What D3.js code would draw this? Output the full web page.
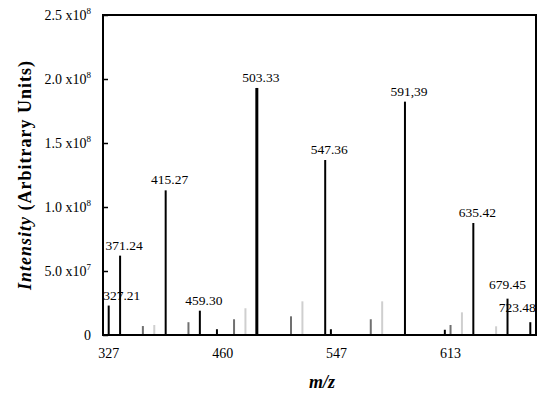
<!DOCTYPE html>
<html>
<head>
<meta charset="utf-8">
<script src="https://cdn.jsdelivr.net/npm/d3@7"></script>
<style>
  body { margin: 0; background: #fff; }
  svg { font-family: "Palatino Linotype", Palatino, "Book Antiqua", "Liberation Serif", serif; }
</style>
</head>
<body>
<div id="chart"></div>
<script>
// spectrum channel of each peak (category position on the m/z axis)
const channels = [0, 2, 6, 8, 10, 14, 16, 19, 22, 24, 26, 32, 34, 38, 39, 46, 48, 52, 59, 60, 62, 64, 68, 70, 74];
const intensities = [2.3e7, 6.2e7, 7.0e6, 7.8e6, 1.13e8, 1.0e7, 1.9e7, 4.5e6, 1.23e7, 2.09e7, 1.93e8,
  1.46e7, 2.63e7, 1.367e8, 4.5e6, 1.23e7, 2.63e7, 1.823e8, 4.1e6, 7.8e6, 1.77e7, 8.75e7, 6.8e6, 2.84e7, 1.0e7];
const series = ["main", "main", "mid", "light", "main", "mid", "main", "main", "mid", "light", "main",
  "mid", "light", "main", "main", "mid", "light", "main", "main", "mid", "light", "main", "light", "main", "main"];
const peakLabels = ["327.21", "371.24", "", "", "415.27", "", "459.30", "", "", "", "503.33",
  "", "", "547.36", "", "", "", "591,39", "", "", "", "635.42", "", "679.45", "723.48"];

const xTickChannels = [0, 20, 40, 60];
const xTickLabels = ["327", "460", "547", "613"];
const yTicks = [0, 5e7, 1e8, 1.5e8, 2e8, 2.5e8];

const data = channels.map((c, i) => ({
  channel: c, value: intensities[i], series: series[i], label: peakLabels[i]
}));

const width = 550, height = 397;
const margin = { top: 15, right: 14, bottom: 62, left: 103 };

const svg = d3.select("#chart")
  .append("svg")
  .attr("width", width)
  .attr("height", height);

const x = d3.scaleLinear()
  .domain([-1, 75])
  .range([margin.left, width - margin.right]);

const y = d3.scaleLinear()
  .domain([0, 2.5e8])
  .range([height - margin.bottom, margin.top]);

const color = d3.scaleOrdinal()
  .domain(["main", "mid", "light"])
  .range(["#000", "#707070", "#cfcfcf"]);

// peaks
svg.append("g")
  .selectAll("line")
  .data(data)
  .enter()
  .append("line")
  .attr("x1", d => x(d.channel))
  .attr("x2", d => x(d.channel))
  .attr("y1", y(0))
  .attr("y2", d => y(d.value))
  .attr("stroke", d => color(d.series))
  .attr("stroke-width", d => d.value > 1.9e8 ? 3 : 2);

// peak labels, nudged where they would hit the frame
const nudge = { "327.21": [13, 0], "723.48": [-13, -4], "679.45": [0, -4] };
svg.append("g")
  .attr("font-size", 13.5)
  .attr("text-anchor", "middle")
  .selectAll("text")
  .data(data.filter(d => d.label))
  .enter()
  .append("text")
  .attr("x", d => x(d.channel) + 4 + (nudge[d.label] ? nudge[d.label][0] - 4 : 0))
  .attr("y", d => y(d.value) - 6 + (nudge[d.label] ? nudge[d.label][1] : 0))
  .text(d => d.label);

// y axis, ticks pointing inward
const yAxis = svg.append("g")
  .attr("transform", `translate(${margin.left},0)`)
  .call(d3.axisRight(y).tickValues(yTicks).tickSize(5).tickFormat(""));
yAxis.select(".domain").remove();
yAxis.selectAll("line").attr("stroke", "#000").attr("stroke-width", 1.5);

const yLab = svg.append("g")
  .attr("font-size", 14)
  .attr("text-anchor", "end")
  .selectAll("text")
  .data(yTicks)
  .enter()
  .append("text")
  .attr("x", margin.left - 12)
  .attr("y", d => y(d) + 5);
yLab.each(function(d) {
  const t = d3.select(this);
  if (d === 0) { t.text("0"); return; }
  const e = Math.floor(Math.log10(d));
  t.append("tspan").text((d / Math.pow(10, e)).toFixed(1) + " x10");
  t.append("tspan").attr("font-size", 9).attr("dy", -6).text(e);
});

// x tick labels
svg.append("g")
  .attr("font-size", 14)
  .attr("text-anchor", "middle")
  .selectAll("text")
  .data(xTickChannels)
  .enter()
  .append("text")
  .attr("x", d => x(d))
  .attr("y", height - margin.bottom + 23)
  .text((d, i) => xTickLabels[i]);

// frame
svg.append("rect")
  .attr("x", margin.left)
  .attr("y", margin.top)
  .attr("width", width - margin.left - margin.right)
  .attr("height", height - margin.top - margin.bottom)
  .attr("fill", "none")
  .attr("stroke", "#000")
  .attr("stroke-width", 2);

// axis titles
svg.append("text")
  .attr("transform", `translate(31,175) rotate(-90)`)
  .attr("text-anchor", "middle")
  .attr("font-size", 18)
  .attr("font-weight", "bold")
  .attr("letter-spacing", 1)
  .call(t => {
    t.append("tspan").attr("font-style", "italic").text("Intensity");
    t.append("tspan").text(" (Arbitrary Units)");
  });

svg.append("text")
  .attr("x", 322)
  .attr("y", 388)
  .attr("text-anchor", "middle")
  .attr("font-size", 18)
  .attr("font-weight", "bold")
  .attr("font-style", "italic")
  .text("m/z");
</script>
</body>
</html>
